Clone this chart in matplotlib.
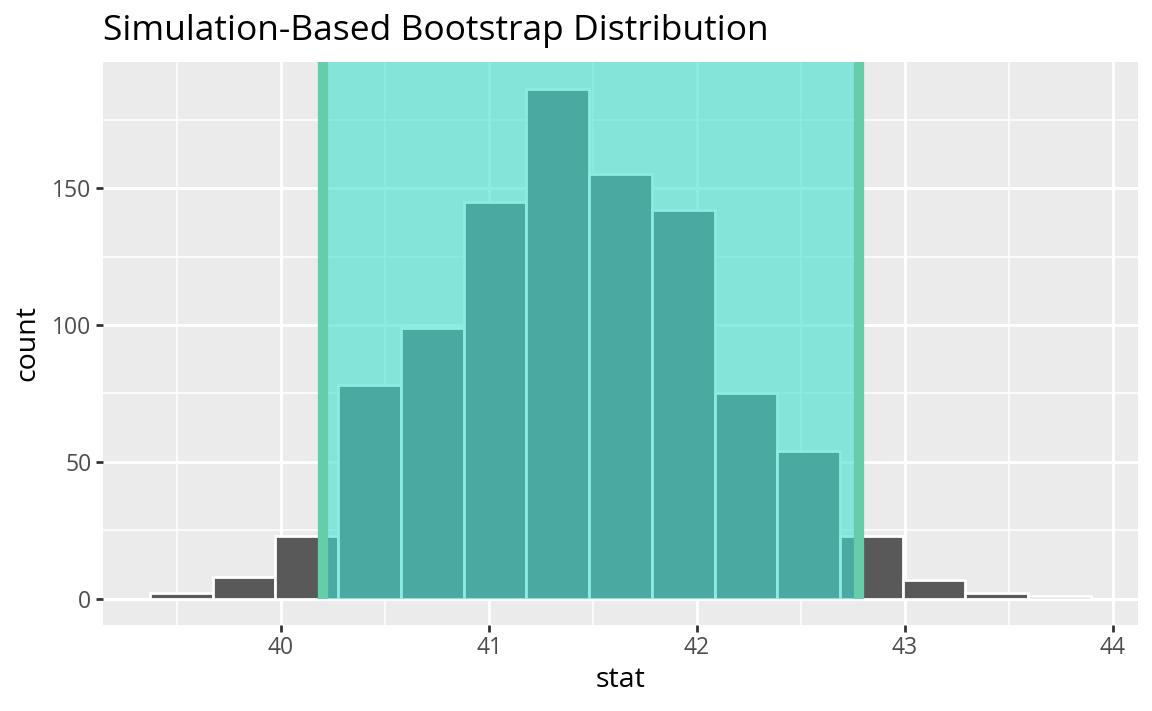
import numpy as np
import matplotlib.pyplot as plt

plt.rcParams['font.family'] = ['Open Sans', 'DejaVu Sans']

# histogram of bootstrap stat (15 bins)
bin_start = 39.37
bin_width = 0.3016
counts = [2, 8, 23, 78, 99, 145, 186, 155, 142, 75, 54, 23, 7, 2, 1]
ci_lower = 40.20
ci_upper = 42.78

edges = bin_start + bin_width * np.arange(len(counts))

fig = plt.figure(figsize=(11.52, 7.11), dpi=100)
ax = fig.add_axes([0.0894, 0.121, 0.8984, 0.7918])
ax.set_facecolor('#EBEBEB')
for s in ax.spines.values():
    s.set_visible(False)

ax.set_xlim(39.144, 44.12)
ax.set_ylim(-9.5, 196)
ax.set_xticks([40, 41, 42, 43, 44])
ax.set_yticks([0, 50, 100, 150])
ax.set_xticks(np.arange(39.5, 44.1, 1), minor=True)
ax.set_yticks([25, 75, 125, 175], minor=True)
ax.grid(True, which='major', color='white', linewidth=2.2)
ax.grid(True, which='minor', color='white', linewidth=1.1)
ax.set_axisbelow(True)
ax.tick_params(which='major', length=5.3, width=2.0, color='#333333',
               labelsize=16.5, labelcolor='#4D4D4D', pad=3)
ax.tick_params(which='minor', length=0)

ax.bar(edges, counts, width=bin_width, align='edge', color='#595959',
       edgecolor='white', linewidth=2.0, zorder=2)

ax.fill_between([ci_lower, ci_upper], 0, 196, color='#40E0D0', alpha=0.6,
                linewidth=0, zorder=3)
ax.vlines([ci_lower, ci_upper], 0, 196, color='#66CDAA', linewidth=7.4, zorder=4)

ax.set_xlabel('stat', fontsize=20.5, color='black', labelpad=4)
ax.set_ylabel('count', fontsize=20.5, color='black', labelpad=8)
fig.text(0.0894, 0.957, 'Simulation-Based Bootstrap Distribution', fontsize=25.5,
         ha='left', va='center')

fig.savefig('out.png', dpi=100)
